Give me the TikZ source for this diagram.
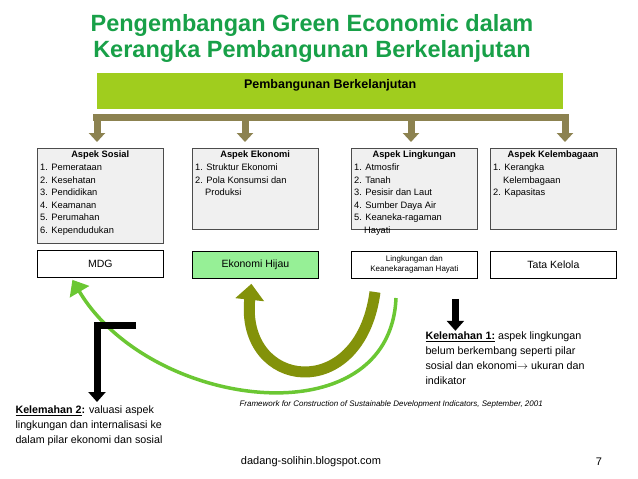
\documentclass[tikz,border=0pt]{standalone}
\usepackage{fontspec}
\setmainfont{Liberation Sans}
\usetikzlibrary{arrows.meta,positioning}
\definecolor{titlegreen}{RGB}{24,160,72}
\definecolor{lime}{RGB}{160,205,30}
\definecolor{brown}{RGB}{140,130,80}
\definecolor{boxgray}{RGB}{240,240,240}
\definecolor{hijau}{RGB}{150,240,150}
\newcommand{\isi}[2]{\parbox[t][#1][t]{120pt}{\raggedright #2}}
\tikzset{
  aspek/.style={draw=black!70,fill=boxgray,anchor=north west,
    inner sep=3pt,font=\fontsize{9.3}{12.6}\selectfont},
  pilar/.style={draw,thick,minimum width=126pt,minimum height=27pt,anchor=north west,
    align=center,font=\fontsize{10.5}{12}\selectfont},
  turun/.style={brown,line width=7pt,-{Triangle[length=9pt,width=16pt]}},
  hitam/.style={black,line width=7pt,-{Triangle[length=10pt,width=17pt]}},
  catatan/.style={anchor=north west,align=left,font=\fontsize{10.7}{15}\selectfont}
}
\begin{document}
\begin{tikzpicture}[x=1pt,y=-1pt]
\useasboundingbox (0,0) rectangle (638,479);
% judul
\node (judul) at (312,38) [align=center,text=titlegreen,font=\fontsize{23.5}{26}\bfseries\selectfont]
  {Pengembangan Green Economic dalam\\Kerangka Pembangunan Berkelanjutan};
\node (pb) [fill=lime,minimum width=466pt,minimum height=36pt,anchor=north west,
  font=\fontsize{12.5}{14}\bfseries\selectfont,text depth=14pt] at (97,73) {Pembangunan Berkelanjutan};
% cabang
\draw[brown,line width=7pt] (93,117) -- (569,117);
\coordinate (c1) at (97,114);
\coordinate (c2) at (245,114);
\coordinate (c3) at (411,114);
\coordinate (c4) at (565,114);
\foreach \c in {c1,c2,c3,c4}
  \draw[turun] (\c) -- ++(0,28);
% aspek
\node (sosial) [aspek] at (37,148) {\isi{89pt}{\centering\textbf{Aspek Sosial}\par\raggedright
  1. Pemerataan\\2. Kesehatan\\3. Pendidikan\\4. Keamanan\\5. Perumahan\\6. Kependudukan}};
\node (ekonomi) [aspek] at (192,148) {\isi{75pt}{\centering\textbf{Aspek Ekonomi}\par\raggedright
  1. Struktur Ekonomi\\2. Pola Konsumsi dan\\\hspace*{10pt}Produksi}};
\node (lingk) [aspek] at (351,148) {\isi{75pt}{\centering\textbf{Aspek Lingkungan}\par\raggedright
  1. Atmosfir\\2. Tanah\\3. Pesisir dan Laut\\4. Sumber Daya Air\\5. Keaneka-ragaman\\\hspace*{10pt}Hayati}};
\node (lembaga) [aspek] at (490,148) {\isi{75pt}{\centering\textbf{Aspek Kelembagaan}\par\raggedright
  1. Kerangka\\\hspace*{10pt}Kelembagaan\\2. Kapasitas}};
% pilar
\node (mdg) [pilar] at (37,250) {MDG};
\node (hijau) [pilar,fill=hijau] at (192,251) {Ekonomi Hijau};
\node (lkh) [pilar,font=\fontsize{8}{10}\selectfont] at (351,251) {Lingkungan dan\\Keanekaragaman Hayati};
\node (tata) [pilar] at (490,251) {Tata Kelola};
% panah lengkung
\coordinate (a1) at (396,298);
\coordinate (a2) at (375,292);
\draw[green!45!olive!80,line width=3.5pt,-{Triangle[length=14pt,width=22pt]}]
  (a1) .. controls (390,440) and (150,410) .. ([xshift=-28pt,yshift=-2pt]mdg.south);
\draw[olive!80!green,line width=11pt,-{Triangle[length=16pt,width=28pt]}]
  (a2) .. controls (360,405) and (240,390) .. ([xshift=-4pt,yshift=-5pt]hijau.south);
% panah hitam
\draw[hitam] ([xshift=41pt,yshift=-20pt]lkh.south) -- ++(0,32);
\coordinate (l1) at (136,325);
\draw[hitam] (l1) -- (97,325) -- (97,402);
% catatan
\node (lemah1) [catatan] at (422,328) {\underline{\textbf{Kelemahan 1:}} aspek lingkungan\\
  belum berkembang seperti pilar\\sosial dan ekonomi$\rightarrow$ ukuran dan\\indikator};
\node (lemah2) [catatan] at (12,402) {\underline{\textbf{Kelemahan 2}}\textbf{:} valuasi aspek\\
  lingkungan dan internalisasi ke\\dalam pilar ekonomi dan sosial};
\node (sumber) [anchor=west,font=\fontsize{8}{9}\itshape\selectfont] at (236,404)
  {Framework for Construction of Sustainable Development Indicators, September, 2001};
\node (blog) [font=\fontsize{11}{12}\selectfont] at (311,462) {dadang-solihin.blogspot.com};
\node (hal) [font=\fontsize{11}{12}\selectfont] at (599,462) {7};
\end{tikzpicture}
\end{document}
